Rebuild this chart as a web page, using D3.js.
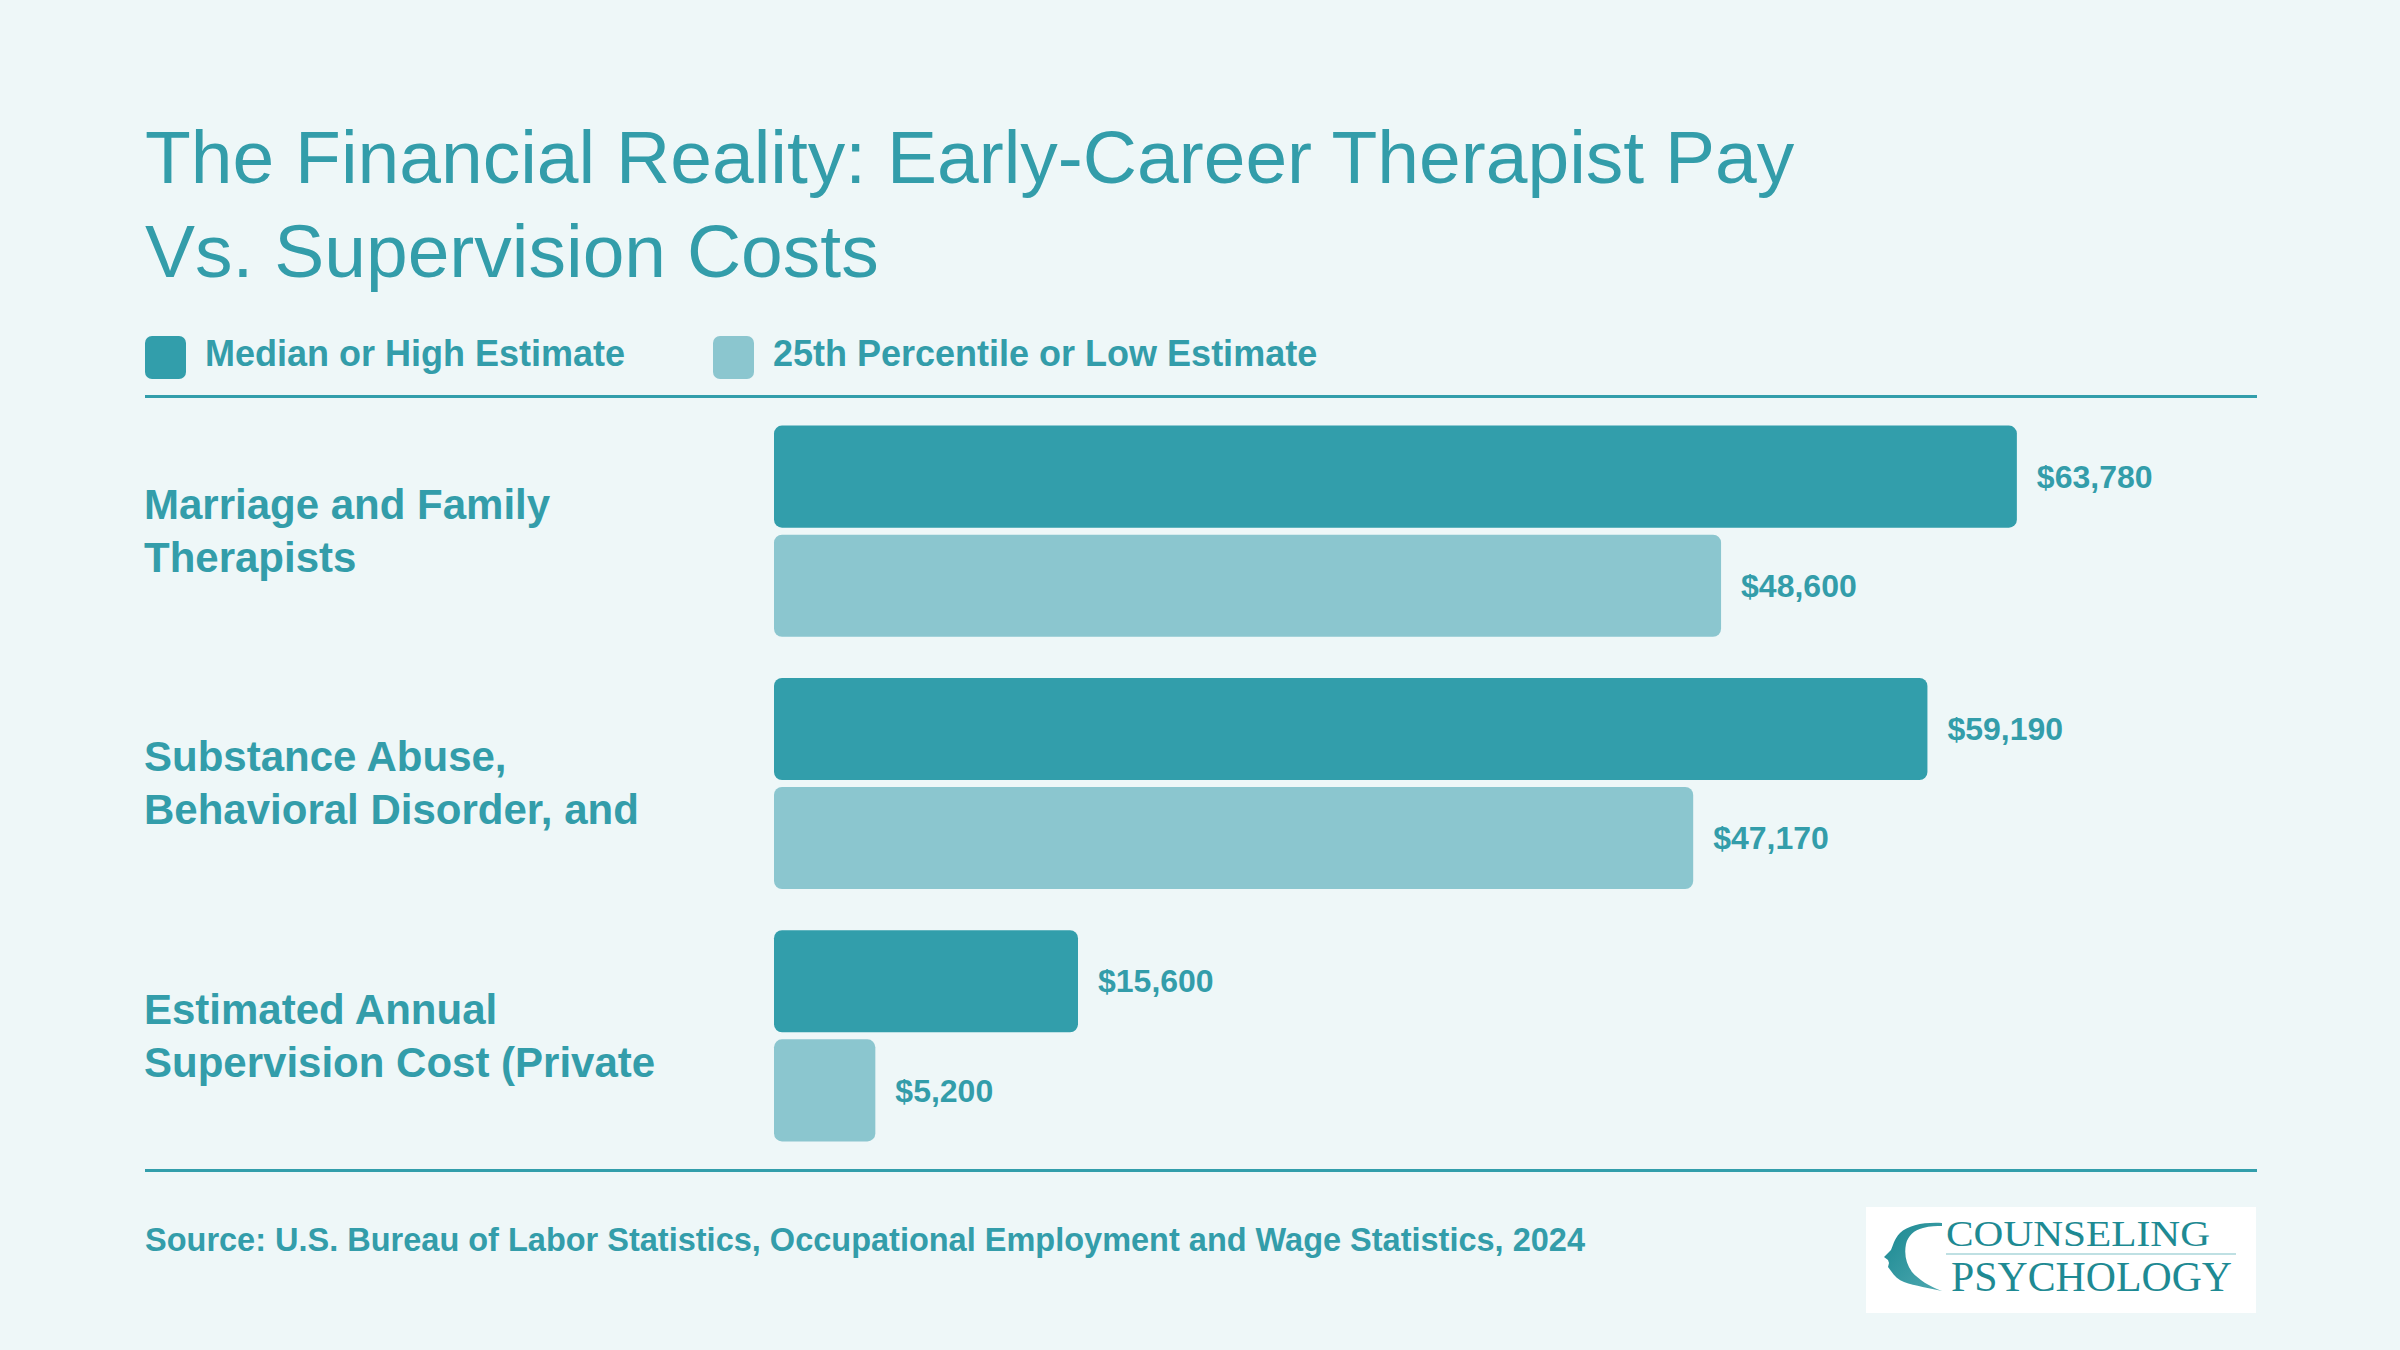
<!DOCTYPE html>
<html>
<head>
<meta charset="utf-8">
<script src="https://cdn.jsdelivr.net/npm/d3@7"></script>
<style>
  html, body { margin: 0; padding: 0; background: #EEF7F8; }
  svg { display: block; }
</style>
</head>
<body>
<svg id="chart" width="2400" height="1350"></svg>
<script>
// ---- Data ----
const titleLines = ["The Financial Reality: Early-Career Therapist Pay", "Vs. Supervision Costs"];
const categories = [
  "Marriage and Family Therapists",
  "Substance Abuse, Behavioral Disorder, and Mental Health Counselors",
  "Estimated Annual Supervision Cost (Private Practice)"
];
const seriesNames = ["Median or High Estimate", "25th Percentile or Low Estimate"];
const highValues = [63780, 59190, 15600];
const lowValues = [48600, 47170, 5200];
const sourceText = "Source: U.S. Bureau of Labor Statistics, Occupational Employment and Wage Statistics, 2024";

// ---- Styles ----
const BG = "#EEF7F8";
const TEXT = "#339DAA";
const DARK = "#329EAB";
const LIGHT = "#8BC6CF";
const FONT = "'Liberation Sans', Arial, Helvetica, sans-serif";

const svg = d3.select("#chart");
svg.append("rect").attr("width", 2400).attr("height", 1350).attr("fill", BG);

// Title
svg.append("g").selectAll("text").data(titleLines).join("text")
  .attr("x", 145).attr("y", (d, i) => 183 + i * 94)
  .attr("font-family", FONT).attr("font-size", 75).attr("fill", TEXT)
  .text(d => d);

// Legend
const colors = d3.scaleOrdinal().domain(seriesNames).range([DARK, LIGHT]);
const legendX = [145, 713];
const lg = svg.append("g").selectAll("g").data(seriesNames).join("g")
  .attr("transform", (d, i) => `translate(${legendX[i]},336)`);
lg.append("rect").attr("width", 41).attr("height", 43).attr("rx", 7).attr("fill", d => colors(d));
lg.append("text").attr("x", 60).attr("y", 30)
  .attr("font-family", FONT).attr("font-size", 36).attr("font-weight", "bold").attr("fill", TEXT)
  .text(d => d);

// Rules
svg.append("rect").attr("x", 145).attr("y", 395).attr("width", 2112).attr("height", 3).attr("fill", DARK);
svg.append("rect").attr("x", 145).attr("y", 1169).attr("width", 2112).attr("height", 3).attr("fill", DARK);

// Scales
const x = d3.scaleLinear().domain([0, 76000]).range([774, 2255]);
const y0 = d3.scaleBand().domain(categories).range([405, 1162]).paddingInner(0.163).paddingOuter(0.0815);
const y1 = d3.scaleBand().domain(seriesNames).range([0, y0.bandwidth()]).paddingInner(0.064);

const rows = categories.map((c, i) => ({
  cat: c,
  vals: [{s: seriesNames[0], v: highValues[i]}, {s: seriesNames[1], v: lowValues[i]}]
}));

const groups = svg.append("g").selectAll("g").data(rows).join("g")
  .attr("transform", d => `translate(0,${y0(d.cat)})`);

groups.selectAll("rect").data(d => d.vals).join("rect")
  .attr("x", x(0)).attr("y", d => y1(d.s))
  .attr("width", d => x(d.v) - x(0)).attr("height", y1.bandwidth())
  .attr("rx", 8).attr("fill", d => colors(d.s));

const fmt = d3.format("$,");
groups.selectAll("text.val").data(d => d.vals).join("text").attr("class", "val")
  .attr("x", d => x(d.v) + 20).attr("y", d => y1(d.s) + y1.bandwidth() / 2)
  .attr("dy", "0.35em")
  .attr("font-family", FONT).attr("font-size", 32).attr("font-weight", "bold").attr("fill", TEXT)
  .text(d => fmt(d.v));

// Category labels (wrapped to at most 2 lines)
const maxW = 560;
groups.each(function(d) {
  const g = d3.select(this);
  const cy = y0.bandwidth() / 2;
  const t = g.append("text").attr("font-family", FONT).attr("font-size", 42)
    .attr("font-weight", "bold").attr("fill", TEXT);
  const words = d.cat.split(" ");
  const lines = [];
  let cur = [];
  const probe = t.append("tspan");
  words.forEach(w => {
    const test = cur.concat([w]).join(" ");
    probe.text(test);
    if (probe.node().getComputedTextLength() > maxW && cur.length) {
      lines.push(cur.join(" "));
      cur = [w];
    } else cur.push(w);
  });
  if (cur.length) lines.push(cur.join(" "));
  probe.remove();
  lines.slice(0, 2).forEach((ln, i) => {
    t.append("tspan").attr("x", 144).attr("y", cy - 12 + i * 53).text(ln);
  });
});

// Source
svg.append("text").attr("x", 145).attr("y", 1251)
  .attr("font-family", FONT).attr("font-size", 32.5).attr("font-weight", "bold").attr("fill", TEXT)
  .text(sourceText);

// Logo
const logo = svg.append("g");
logo.append("rect").attr("x", 1866).attr("y", 1207).attr("width", 390).attr("height", 106).attr("fill", "#FFFFFF");
const defs = svg.append("defs");
const grad = defs.append("linearGradient").attr("id", "headGrad").attr("x1", "0").attr("y1", "0").attr("x2", "1").attr("y2", "1");
grad.append("stop").attr("offset", "0").attr("stop-color", "#1A8891");
grad.append("stop").attr("offset", "1").attr("stop-color", "#4FA9B1");
logo.append("path")
  .attr("d", "M1942,1223 C1925,1222 1908,1225 1900,1233 C1894,1239 1893,1246 1891,1250 L1884,1257 L1888,1260 L1889,1263 L1888,1267 L1891,1271 C1894,1276 1899,1280 1904,1282 C1915,1286 1930,1288 1942,1291 C1930,1287 1918,1279 1912,1272 C1906,1264 1904,1254 1906,1244 C1908,1236 1914,1230 1923,1228 C1930,1226 1937,1226 1942,1226 Z")
  .attr("fill", "url(#headGrad)");
logo.append("text").attr("x", 1946).attr("y", 1246)
  .attr("font-family", "'Liberation Serif', 'Times New Roman', serif").attr("font-size", 36)
  .attr("textLength", 264).attr("lengthAdjust", "spacingAndGlyphs")
  .attr("fill", "#1E8A93").text("COUNSELING");
logo.append("rect").attr("x", 1946).attr("y", 1253).attr("width", 290).attr("height", 2).attr("fill", "#BFE0E3");
logo.append("text").attr("x", 1951).attr("y", 1291)
  .attr("font-family", "'Liberation Serif', 'Times New Roman', serif").attr("font-size", 42)
  .attr("textLength", 281).attr("lengthAdjust", "spacingAndGlyphs")
  .attr("fill", "#1E8A93").text("PSYCHOLOGY");
</script>
</body>
</html>
